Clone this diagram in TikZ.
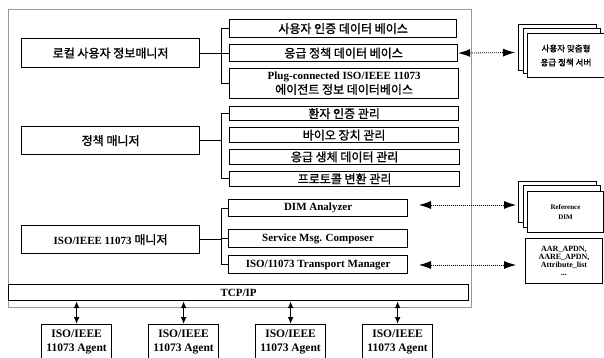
\documentclass[tikz,border=0pt]{standalone}
\usepackage{fontspec}
\setmainfont{Liberation Serif}
\newfontfamily\kr{Noto Sans CJK KR}[FakeBold=1.2]
\usetikzlibrary{arrows.meta,calc}
\newcommand\kor[1]{{\kr\mdseries\fontsize{12}{14}\selectfont #1}}
\begin{document}
\begin{tikzpicture}[x=1pt,y=-1pt,
  box/.style={draw, line width=1.2pt, fill=white, inner sep=0pt, align=center, anchor=north west,
    font=\fontsize{11}{13}\selectfont\bfseries},
  agent/.style={box, font=\fontsize{11.5}{14.5}\selectfont\bfseries},
  stk/.style={draw, line width=0.9pt, fill=white, inner sep=0pt, align=center, anchor=north west},
  brk/.style={line width=0.9pt},
  darr/.style={dash pattern=on 1pt off 1pt, line width=0.8pt, {Latex[length=12pt,width=8pt]}-{Latex[length=12pt,width=8pt]}},
  aarr/.style={line width=1.6pt, {Latex[length=7pt,width=6pt]}-{Latex[length=7pt,width=6pt]}}]
\useasboundingbox (0,0) rectangle (604,358);
% outer frame
\draw[gray!80, line width=0.8pt] (8,9) rectangle (471,307);
% left managers
\node[box, minimum width=178pt, minimum height=29pt] (L1) at (21,38) {\kor{로컬 사용자 정보매니저}};
\node[box, minimum width=178pt, minimum height=28pt] (L2) at (21,126) {\kor{정책 매니저}};
\node[box, minimum width=178pt, minimum height=28pt] (L3) at (21,225) {ISO/IEEE 11073 \kor{매니저}};
% right boxes
\node[box, minimum width=227pt, minimum height=18pt] (r1) at (229,19) {\kor{사용자 인증 데이터 베이스}};
\node[box, minimum width=228pt, minimum height=17pt] (r2) at (229,44) {\kor{응급 정책 데이터 베이스}};
\node[box, minimum width=229pt, minimum height=30pt, font=\fontsize{11}{14}\selectfont\bfseries] (r3) at (229,68) {Plug-connected ISO/IEEE 11073\\\kor{에이전트 정보 데이터베이스}};
\node[box, minimum width=229pt, minimum height=14pt] (r4) at (229,106) {\kor{환자 인증 관리}};
\node[box, minimum width=229pt, minimum height=15pt] (r5) at (229,127) {\kor{바이오 장치 관리}};
\node[box, minimum width=230pt, minimum height=14.5pt] (r6) at (229,149) {\kor{응급 생체 데이터 관리}};
\node[box, minimum width=230pt, minimum height=14.5pt] (r7) at (229,171) {\kor{프로토콜 변환 관리}};
\node[box, minimum width=179pt, minimum height=17pt] (r8) at (228,199) {DIM Analyzer};
\node[box, minimum width=179pt, minimum height=18pt] (r9) at (228,229) {Service Msg. Composer};
\node[box, minimum width=179pt, minimum height=18pt] (r10) at (228,255) {ISO/11073 Transport Manager};
% brackets
\coordinate (bx) at (221,0);
\draw[brk] (L1.east) -- (L1.east -| bx);
\draw[brk] (r1.west) -- (r1.west -| bx) -- (r3.west -| bx) -- (r3.west);
\draw[brk] (r2.west) -- (r2.west -| bx);
\draw[brk] (L2.east) -- (L2.east -| bx);
\draw[brk] (r4.west) -- (r4.west -| bx) -- (r7.west -| bx) -- (r7.west);
\draw[brk] (L3.east) -- (L3.east -| bx);
\draw[brk] (r8.west) -- (r8.west -| bx) -- (r10.west -| bx) -- (r10.west);
\draw[brk] (r9.west) -- (r9.west -| bx);
% TCP/IP bar
\node[box, minimum width=460pt, minimum height=16pt] (tcp) at (8,284) {TCP/IP};
% agents
\node[agent, minimum width=70pt, minimum height=35pt] (a1) at (41,324) {ISO/IEEE\\11073 Agent};
\node[agent, minimum width=70pt, minimum height=35pt] (a2) at (148,324) {ISO/IEEE\\11073 Agent};
\node[agent, minimum width=70pt, minimum height=35pt] (a3) at (255,324) {ISO/IEEE\\11073 Agent};
\node[agent, minimum width=70pt, minimum height=35pt] (a4) at (362,324) {ISO/IEEE\\11073 Agent};
\foreach \a in {a1,a2,a3,a4}{\draw[aarr] (\a.north |- tcp.south) -- (\a.north);}
% stack 1 : server
\node[stk, minimum width=78pt, minimum height=46pt] (s1a) at (518,24) {};
\node[stk, minimum width=77pt, minimum height=45pt] (s1b) at (523,28) {};
\node[stk, minimum width=77pt, minimum height=44pt, font=\fontsize{8.5}{14}\selectfont\kr] (s1c) at (527,33) {사용자 맞춤형\\응급 정책 서버};
% stack 2 : reference DIM
\node[stk, minimum width=78pt, minimum height=41pt] (s2a) at (518,181) {};
\node[stk, minimum width=77pt, minimum height=42pt] (s2b) at (523,185) {};
\node[stk, minimum width=76pt, minimum height=41pt, font=\fontsize{7}{10}\selectfont\bfseries] (s2c) at (527,191) {Reference\\DIM};
% APDU list
\node[stk, minimum width=77pt, minimum height=45pt, font=\fontsize{8}{8.2}\selectfont\bfseries] (apdu) at (525,238) {AAR\_APDN,\\AARE\_APDN,\\Attribute\_list\\...};
% dotted arrows
\coordinate (p1) at (515,52.5);
\coordinate (p2l) at (419,205);
\coordinate (p2r) at (516,205);
\coordinate (p3l) at (419,265);
\coordinate (p3r) at (516,265);
\draw[darr] (r2.east) -- (p1);
\draw[darr] (p2l) -- (p2r);
\draw[darr] (p3l) -- (p3r);
\end{tikzpicture}
\end{document}
